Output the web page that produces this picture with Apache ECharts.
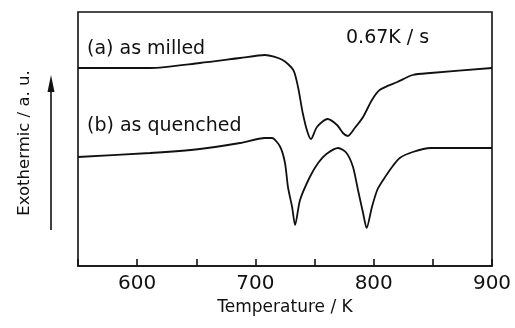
<!DOCTYPE html>
<html>
<head>
<meta charset="utf-8">
<script src="https://cdn.jsdelivr.net/npm/echarts@6/dist/echarts.min.js"></script>
<style>
  html, body { margin: 0; padding: 0; background: #fff; }
  #chart { width: 515px; height: 328px; }
</style>
</head>
<body>
<div id="chart"></div>
<script>
// temperature (K) / signal (a.u.)
const milledT = [550, 611, 653, 687, 708, 723, 732, 736, 740, 744, 747, 752, 761, 769, 774, 778, 784, 791, 798.5, 805, 820, 833, 848, 900]
const milledY = [198, 198, 203, 208, 211, 206, 196, 179, 153, 134, 127, 139, 147, 141, 133, 130, 138, 149, 166, 176, 184, 191, 193, 198]

const quenchedT = [550, 611, 653, 687, 708, 714, 721, 725, 727.5, 731, 733.5, 737.7, 746, 753, 760, 770, 777, 782.5, 786.7, 791, 794, 798.5, 803, 808, 815.5, 822, 833, 848, 900]
const quenchedY = [109, 113, 117, 123, 128, 128, 119, 103, 79, 59, 41, 66, 89, 103, 112, 118, 113, 99, 76, 53, 38, 59, 76, 86, 99, 108, 114, 118, 118]

const xTickLabels = [600, 700, 800, 900]

const FONT = 'DejaVu Sans'
const INK = '#111'
const chart = echarts.init(document.getElementById('chart'))

const zip = (xs, ys) => xs.map((x, i) => [x, ys[i]])

const curve = (name, data) => ({
    name,
    type: 'line',
    data,
    smooth: 0.25,
    symbol: 'none',
    lineStyle: { color: INK, width: 1.8 },
})

const label = (text, x, y, size) => ({
    type: 'text', x, y,
    style: { text, fontFamily: FONT, fontSize: size, fill: INK, verticalAlign: 'middle' },
})

chart.setOption({
    animation: false,
    grid: {
        left: 78, right: 23, top: 12, bottom: 62,
        show: true, borderColor: INK, borderWidth: 1.6,
    },
    xAxis: {
        type: 'value',
        min: 550, max: 900, interval: 50,
        name: 'Temperature / K',
        nameLocation: 'middle',
        nameGap: 33,
        nameTextStyle: { fontFamily: FONT, fontSize: 17, color: INK },
        axisLine: { show: true, lineStyle: { color: INK, width: 1.6 } },
        axisTick: { show: true, inside: true, length: 7, lineStyle: { color: INK, width: 1.6 } },
        splitLine: { show: false },
        axisLabel: {
            margin: 8,
            fontFamily: FONT, fontSize: 20, color: INK,
            formatter: v => xTickLabels.includes(v) ? String(v) : '',
        },
    },
    yAxis: {
        type: 'value',
        min: 0, max: 254,
        axisLine: { show: false },
        axisTick: { show: false },
        axisLabel: { show: false },
        splitLine: { show: false },
    },
    series: [
        curve('(a) as milled', zip(milledT, milledY)),
        curve('(b) as quenched', zip(quenchedT, quenchedY)),
    ],
    graphic: [
        label('(a) as milled', 87, 49, 19),
        label('(b) as quenched', 87, 126, 19),
        label('0.67K / s', 346, 38, 19),
        {
            type: 'text', x: 25, y: 143, rotation: Math.PI / 2,
            style: { text: 'Exothermic / a. u.', fontFamily: FONT, fontSize: 16.5, fill: INK, align: 'center', verticalAlign: 'middle' },
        },
        { type: 'line', shape: { x1: 51, y1: 88, x2: 51, y2: 230 }, style: { stroke: INK, lineWidth: 1.6 } },
        { type: 'polygon', shape: { points: [[51, 75], [47.5, 92], [54.5, 92]] }, style: { fill: INK } },
    ],
})
</script>
</body>
</html>
